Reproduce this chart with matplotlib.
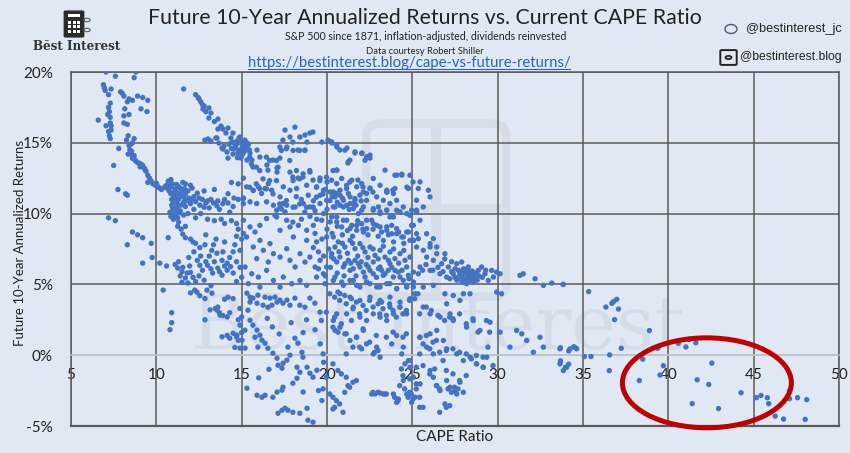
import matplotlib
matplotlib.use("Agg")
import matplotlib.pyplot as plt
from matplotlib.patches import Ellipse, FancyBboxPatch, Rectangle, Circle
from matplotlib.lines import Line2D

# ---------------- data (CAPE ratio, future 10y annualized return %) ----------------
left_band = [(7.05,20.0),(7.6,19.7),(8.8,20.0),(8.7,19.6),(6.9,19.1),(6.95,18.9),(7.35,18.8),(7.2,18.4),(7.9,18.6),(8.1,18.3),(8.4,18.1),(8.6,18.0),(9.2,18.2),(9.5,18.0),(7.2,17.5),(7.25,17.2),(8.15,17.4),(9.1,17.4),(9.45,17.2),(7.3,16.8),(7.3,16.4),(8.1,16.9),(8.4,17.0),(6.6,16.6),(7.05,16.2),(7.35,16.2),(8.1,16.4),(8.3,16.3),(7.2,15.8),(7.25,15.5),(7.3,15.3),(8.35,15.5),(8.7,15.3),(8.6,15.0),(7.8,14.6),(8.4,14.8),(8.5,14.2),(8.35,14.2),(8.6,13.9),(8.9,13.6),(9.1,13.5),(7.5,13.4),(9.2,13.4),(9.4,13.0),(9.5,12.7),(9.5,12.2),(9.8,12.1),(10.1,11.9),(10.3,11.7),(7.75,11.7),(8.2,11.4),(8.3,11.3),(7.2,9.7),(7.6,9.5),(8.6,8.7),(8.9,8.5),(9.2,8.3),(9.7,7.9),(8.3,7.8),(9.2,6.5),(9.75,6.9),(10.2,6.5),(10.6,6.3),(10.4,4.6),(10.9,3.0),(10.9,2.3),(10.8,1.8),(7.0,18.7),(8.0,18.5),(8.45,14.5),(8.75,13.8),(9.0,13.55),(9.3,13.2),(9.6,12.5),(9.95,12.0),(7.3,17.8),(7.15,17.0),(7.35,15.9),(8.25,15.2),(8.5,14.9),(8.55,14.4),(8.7,14.1),(8.8,13.7),(9.05,13.3),(9.35,13.05),(9.7,12.3),(10.0,12.15),(10.2,11.8),(8.3,17.9),(8.9,18.3)]

main_band = [(10.85,12.4),(10.7,12.3),(11.55,12.2),(11.7,12.1),(10.6,11.8),(10.75,11.6),(10.85,11.4),(11.0,11.1),(11.25,11.45),(11.45,11.25),(11.7,11.4),(11.9,11.1),(12.4,11.45),(12.5,11.1),(12.7,11.0),(12.9,10.75),(13.2,11.0),(13.6,10.9),(13.9,10.7),(14.2,10.75),(14.5,10.5),(14.8,11.0),(15.1,10.7),(15.1,11.1),(13.4,11.7),(14.2,11.4),(14.55,11.1),(11.0,10.75),(11.25,10.5),(11.0,10.3),(11.15,10.0),(10.85,9.8),(11.0,9.6),(11.25,9.7),(11.85,10.0),(12.2,10.3),(12.6,10.0),(13.0,9.6),(13.4,9.5),(13.8,9.6),(14.0,9.3),(14.4,9.5),(14.7,9.3),(11.25,9.1),(11.45,8.9),(11.7,9.1),(11.55,8.55),(11.7,8.3),(12.0,8.2),(12.3,7.9),(10.7,8.3),(14.8,8.9),(14.7,8.4),(15.0,8.2),(15.1,8.6),(10.5,11.9),(10.9,11.9),(11.1,11.7),(11.3,11.9),(11.5,11.6),(11.1,11.2),(11.3,11.0),(11.6,10.8),(10.9,10.6),(11.4,10.2),(11.7,10.5),(12.0,10.7),(12.2,11.2),(10.8,10.1),(11.3,9.4),(12.1,11.8),(12.8,11.6),(13.1,10.4),(13.7,10.3),(12.3,9.7),(14.3,10.1),(12.0,12.0),(14.8,12.1),(15.1,12.5),(14.4,12.2),(10.6,12.0),(10.75,11.95),(10.95,12.1),(11.2,12.05),(11.4,11.8),(11.65,11.75),(11.85,11.6),(10.95,11.45),(11.15,11.5),(11.35,11.35),(11.6,11.15),(11.8,10.9),(10.9,11.0),(11.05,10.9),(11.2,10.75),(11.45,10.6),(10.95,10.45),(11.15,10.35),(11.35,10.05),(11.6,9.9),(10.9,9.95),(11.05,9.85),(12.05,11.0),(12.3,10.85),(12.55,10.6),(12.8,10.45),(13.0,10.9),(13.35,10.75),(13.55,10.55),(14.0,11.0)]

mid_left = [(12.15,8.0),(12.55,7.6),(12.85,7.8),(13.25,7.4),(13.55,7.2),(13.9,7.3),(14.3,6.9),(14.6,7.8),(14.9,7.4),(13.85,6.7),(14.15,6.5),(11.1,6.4),(11.25,6.15),(11.5,5.9),(11.55,6.2),(11.8,5.8),(11.7,5.45),(12.0,5.85),(12.15,5.5),(11.5,5.15),(11.85,5.1),(12.4,6.7),(12.55,6.35),(12.7,6.0),(13.0,6.35),(13.3,5.8),(13.6,6.15),(13.85,5.65),(14.15,6.0),(14.5,5.8),(12.0,4.4),(12.25,4.6),(12.55,4.2),(12.85,4.0),(11.3,6.6),(11.4,5.6),(11.95,6.3),(12.3,5.2),(13.1,7.0),(14.0,8.0),(13.5,8.2),(12.9,8.5),(14.9,6.2),(15.0,5.5),(14.7,5.2),(13.2,4.9),(12.2,7.3),(12.6,7.0),(12.9,6.6),(13.2,6.1),(13.4,6.6),(13.7,5.9),(14.0,6.3),(14.35,6.25),(14.7,6.6),(14.5,7.3),(13.35,7.8),(12.5,5.6),(11.9,6.9),(12.8,5.3)]

low_left = [(13.6,3.4),(13.7,3.0),(13.9,2.8),(14.15,2.7),(14.3,3.0),(14.5,4.0),(14.2,4.1),(14.0,3.95),(13.15,3.2),(13.45,3.3),(13.85,1.3),(14.15,1.4),(14.3,1.2),(14.5,1.55),(14.7,1.3),(14.8,1.05),(15.0,1.6),(14.6,0.55),(14.9,0.5),(15.2,0.5),(14.8,2.5),(14.9,3.3),(15.0,2.7),(12.85,2.5),(14.72,1.41),(15.02,1.06),(14.9,2.12),(15.19,1.77),(15.37,3.18),(15.49,3.75),(12.38,4.45),(12.97,4.59),(13.26,4.38),(13.55,3.18),(13.73,2.83)]

low_mid = [(15.31,4.38),(15.49,4.1),(15.66,4.03),(15.95,4.24),(16.37,4.1),(16.66,4.03),(16.95,4.1),(17.24,3.89),(15.9,3.67),(16.25,3.53),(16.54,3.39),(16.77,3.53),(17.07,3.75),(17.42,3.67),(17.65,3.89),(17.83,3.53),(18.12,4.03),(18.41,3.53),(18.71,3.39),(19.0,4.03),(19.29,3.67),(19.59,3.04),(15.49,2.47),(15.66,2.12),(15.9,1.77),(16.07,1.41),(15.78,1.27),(16.19,1.06),(16.37,0.85),(15.95,0.57),(16.54,0.49),(16.83,0.14),(17.07,-0.21),(17.13,-0.71),(17.36,-0.92),(17.42,-0.57),(17.65,-0.35),(17.83,0.0),(17.71,0.57),(18.12,1.2),(18.3,0.85),(18.53,0.21),(18.59,-0.14),(18.24,-0.85),(18.41,-1.2),(18.83,-0.85),(19.0,-1.27),(19.18,-1.55),(19.41,-1.06),(18.24,-1.63),(18.0,-1.98),(15.31,-2.33),(15.9,-2.83),(16.19,-2.97),(16.37,-2.83),(16.83,-2.97),(17.07,-2.61),(17.36,-2.47),(17.42,-2.26),(17.13,-4.1),(17.36,-3.89),(17.54,-3.75),(17.71,-3.89),(18.0,-4.03),(18.41,-4.1),(18.83,-3.75),(18.88,-4.59),(19.18,-4.73),(16.8,2.0),(17.2,1.5),(16.5,2.6),(18.8,2.5),(19.3,1.8),(19.6,0.8),(18.6,1.6),(17.9,2.3),(19.8,-0.5),(19.5,-2.5),(19.7,-3.2),(16.0,-1.6),(16.6,-1.0),(18.6,-2.6)]

upper_diag = [(11.6,18.8),(12.3,18.4),(12.45,18.2),(12.5,18.1),(12.6,17.9),(12.7,17.7),(12.8,17.6),(12.73,17.39),(13.08,17.46),(13.2,17.1),(13.08,16.75),(13.61,16.68),(13.79,16.18),(13.61,15.97),(13.9,15.97),(14.08,15.69),(14.2,16.04),(14.49,15.69),(14.37,15.34),(13.03,15.27),(13.2,15.12),(13.49,15.34),(13.67,14.98),(13.96,14.77),(14.26,14.91),(14.55,14.56),(14.78,14.98),(14.84,15.34),(15.08,15.12),(15.13,14.77),(15.25,14.56),(14.78,14.28),(14.96,13.92),(14.49,14.2),(14.2,13.92),(13.9,14.56),(12.85,15.19),(13.55,15.34),(13.85,14.63),(14.14,14.35),(14.9,15.41),(15.19,15.19),(15.31,14.7),(15.49,14.28),(15.6,13.78),(15.66,13.29),(15.31,13.78),(15.02,14.13),(15.9,14.49),(16.07,13.99),(12.9,17.2),(13.4,16.5),(14.7,15.1),(15.0,14.6),(15.3,15.0),(14.6,14.9),(15.1,14.3),(14.45,15.05),(14.65,14.7),(14.85,14.45),(15.05,14.9),(15.2,14.45),(14.4,14.6),(14.95,15.1),(15.4,14.9),(15.45,14.5),(14.75,13.95)]

upper_right = [(17.54,15.9),(18.12,16.11),(17.83,15.41),(18.0,15.05),(18.41,15.41),(18.71,15.55),(19.0,15.69),(19.18,15.76),(18.83,15.05),(19.7,15.05),(20.06,15.19),(20.29,14.98),(20.58,14.7),(20.76,14.49),(21.17,14.63),(21.34,13.78),(21.23,13.57),(21.64,14.28),(22.05,14.28),(22.34,13.99),(22.52,13.92),(17.42,15.19),(17.24,14.7),(17.65,14.7),(18.3,14.49),(18.71,14.49),(20.27,15.07),(20.57,14.83),(21.05,14.48),(21.25,13.66),(21.64,14.36),(22.03,14.25),(22.32,14.0),(22.52,14.13),(22.23,13.77),(20.57,13.07),(16.48,13.43),(16.83,13.78),(17.24,13.92),(16.54,13.07),(17.07,13.22),(17.07,12.93),(17.83,12.93),(18.0,12.58),(18.3,12.51),(18.59,12.58),(19.0,12.93),(19.18,12.37),(19.59,12.51),(20.0,12.23),(20.58,13.07),(21.34,12.23),(21.81,12.37),(22.11,11.87),(22.52,11.8),(23.4,13.07),(24.1,12.72),(24.39,12.72),(24.68,11.87),(25.04,12.23),(22.69,11.52),(23.51,11.52),(23.86,11.66),(23.98,12.71),(24.38,12.78),(24.86,12.71),(25.45,12.24),(25.35,11.77),(25.94,11.65),(24.77,11.77),(23.98,11.77),(23.5,11.53),(15.47,13.99),(15.57,13.51),(15.86,13.28),(16.06,13.04),(16.45,13.99),(16.64,13.75),(17.04,13.75),(17.13,13.28),(17.33,14.46),(17.62,14.58),(18.01,14.46),(17.82,13.75),(18.4,14.46),(18.7,14.46),(18.21,13.04),(18.6,12.81),(18.99,13.04)]

band_10_12 = [(15.29,11.89),(15.68,11.65),(15.98,11.89),(16.17,11.42),(16.37,11.77),(16.56,12.12),(16.76,11.65),(17.44,11.89),(17.83,11.65),(18.22,11.77),(18.81,12.0),(19.39,11.89),(19.79,11.65),(20.18,11.53),(20.57,11.42),(20.76,11.65),(21.15,11.77),(21.35,11.18),(21.64,10.94),(21.93,11.3),(22.32,11.42),(15.1,11.06),(15.49,10.83),(15.88,10.71),(16.46,10.83),(16.86,10.59),(17.25,11.18),(17.64,10.59),(18.13,10.47),(18.61,10.71),(19.0,10.47),(19.59,10.71),(19.98,10.94),(20.37,10.47),(20.76,10.59),(21.15,10.59),(21.54,10.35),(22.03,10.24),(22.71,10.35),(23.11,10.12),(23.5,10.24),(23.89,9.76),(24.28,10.12),(24.86,9.88),(25.25,10.24),(17.05,10.24),(17.25,10.47),(17.44,10.71),(17.54,10.12),(16.95,9.88),(15.47,11.86),(15.67,11.63),(15.86,12.1),(16.06,11.75),(16.45,11.75),(16.25,12.45),(16.64,12.33),(16.84,11.39),(17.23,10.68),(17.33,10.33),(17.62,10.92),(18.01,10.45),(18.4,10.68),(18.8,10.45),(19.19,10.45),(19.38,11.16),(19.77,11.39),(20.17,10.92),(20.56,11.39),(17.04,12.33),(18.01,12.33),(18.4,12.45),(19.38,11.86),(19.58,12.33),(19.97,12.57),(20.36,13.04),(18.2,11.2),(18.5,11.0),(18.9,11.3),(19.2,10.9),(19.6,11.3),(19.9,11.7),(20.3,11.2),(20.6,10.8),(20.9,11.1),(21.3,10.3),(21.7,10.6),(22.0,10.9),(18.7,10.1),(19.3,10.2),(20.0,10.3)]

core_15_20 = [(15.1,9.53),(15.49,9.06),(15.78,8.7),(15.29,8.35),(16.07,8.11),(15.68,7.64),(16.27,7.41),(16.66,7.88),(16.86,7.17),(17.25,6.93),(17.64,7.52),(17.83,6.7),(18.13,6.23),(18.42,7.17),(18.71,6.58),(19.0,6.93),(19.3,6.23),(19.59,6.7),(19.79,5.75),(19.98,6.23),(20.27,7.17),(20.47,7.64),(20.76,6.93),(21.05,6.46),(21.35,5.99),(21.64,6.7),(21.93,6.23),(22.23,5.52),(22.52,5.99),(22.71,6.58),(23.11,6.23),(23.4,5.75),(23.69,6.46),(23.98,5.99),(24.28,5.52),(24.67,6.23),(25.06,5.87),(15.2,6.23),(15.59,5.75),(15.98,5.52),(16.46,5.99),(16.86,5.28),(17.44,5.52),(17.93,5.05),(18.42,5.28),(18.81,4.93),(19.39,5.52),(19.88,5.05),(20.37,5.28),(20.96,4.93),(21.54,5.28),(21.93,4.81),(22.52,5.05),(23.11,4.81),(23.69,5.05),(24.08,4.69),(24.67,4.93),(25.06,4.81),(15.39,5.05),(16.07,4.81),(17.25,4.81),(15.88,6.82),(16.56,6.58),(17.83,9.06),(18.32,9.17),(18.81,8.82),(19.2,9.17),(19.69,9.53),(20.18,9.41),(20.57,9.76),(20.96,9.53),(21.35,8.94),(21.74,9.17),(22.13,8.7),(22.32,9.53),(22.71,9.29),(23.11,9.06),(23.5,8.82),(23.79,9.17),(24.08,8.58),(24.47,8.35),(24.77,8.7),(25.06,8.11),(18.81,8.11),(19.39,8.0),(19.98,8.35),(18.03,8.35),(17.25,8.82),(17.05,9.76),(17.64,9.53),(16.46,9.65),(16.07,9.17)]

core_20_25 = [(20.27,9.76),(20.57,9.41),(20.86,9.06),(21.15,9.53),(21.45,9.17),(21.74,8.82),(22.03,9.29),(22.32,8.94),(22.62,9.53),(22.91,9.17),(23.2,8.7),(23.5,9.06),(23.79,8.58),(24.08,8.94),(24.38,8.35),(24.67,8.7),(24.86,8.11),(20.37,8.35),(20.66,8.0),(21.05,7.64),(21.35,8.11),(21.64,7.52),(21.93,7.88),(22.23,7.29),(22.52,7.64),(22.81,7.05),(23.11,7.41),(23.4,6.93),(23.69,7.29),(23.98,6.82),(24.28,7.17),(24.57,6.7),(24.86,6.93),(20.27,6.93),(20.57,6.58),(20.96,6.23),(21.25,6.7),(21.54,6.11),(21.84,6.46),(22.13,5.87),(22.42,6.23),(22.71,5.75),(23.01,6.11),(23.3,5.64),(23.59,5.99),(23.89,5.52),(24.18,5.87),(24.47,5.28),(24.77,5.64),(25.06,5.17),(20.47,5.52),(20.86,5.17),(21.35,5.28),(21.74,4.93),(22.32,5.17),(22.91,4.81),(23.5,5.05),(24.08,4.69),(24.67,4.81),(25.16,4.34),(22.52,4.1),(23.11,3.87),(23.69,4.1),(24.28,3.75),(24.86,3.99),(21.93,3.87),(21.35,4.1),(20.76,4.34),(22.71,10.24),(23.11,10.0),(22.13,10.47),(21.54,10.71),(20.96,10.94),(20.47,11.18),(21.84,10.0),(23.69,9.76),(24.08,10.24),(24.67,10.0),(25.06,9.17),(24.96,10.24),(20.27,12.36),(20.57,12.12),(20.86,12.48),(21.15,12.0),(21.45,12.36),(21.74,11.89),(22.03,12.12),(20.37,11.53),(20.76,11.3),(21.25,11.42),(21.64,11.06),(22.13,11.53),(22.52,11.77),(22.91,11.18),(23.3,10.94),(23.69,10.71),(24.08,10.94),(24.47,10.47),(22.71,12.48),(23.11,12.0),(23.5,11.65),(23.89,11.42),(22.32,10.94),(21.35,10.71),(20.96,10.47),(20.47,10.47),(23.01,10.47),(23.5,10.24),(19.2,7.6),(19.5,7.3),(19.8,7.0),(20.1,7.5),(20.4,6.8),(20.7,7.3),(20.9,7.9),(21.2,7.2),(21.5,7.9),(21.8,7.0),(22.1,7.6),(22.4,6.9),(22.7,7.5),(23.0,6.8),(23.3,7.7),(23.6,6.7),(23.9,7.5),(24.2,6.5),(24.5,7.4),(19.3,8.6),(19.7,8.2),(20.0,8.9),(20.3,8.6),(20.6,9.1),(20.9,8.5),(21.2,8.8),(21.5,8.4),(21.8,9.5),(22.1,8.9),(22.4,8.5),(22.7,8.9),(23.0,8.4),(23.3,8.1),(23.6,8.5),(23.9,8.0),(24.2,8.7),(24.5,7.9),(19.5,6.1),(19.9,5.6),(20.2,6.2),(20.6,5.8),(21.0,5.6),(21.4,6.5),(21.7,5.6),(22.0,6.6),(22.3,6.4),(22.9,5.5),(23.2,6.0),(23.8,6.2),(24.4,6.0),(24.8,5.4),(19.0,9.8),(19.4,9.6),(19.8,10.0),(18.5,9.6),(18.0,9.4)]

right_cluster = [(25.25,7.64),(25.64,7.41),(26.04,7.64),(25.84,6.93),(26.23,6.7),(26.43,7.17),(26.91,7.17),(26.72,6.46),(27.11,6.23),(27.6,6.46),(27.89,6.58),(28.09,5.99),(28.28,6.23),(28.48,5.75),(28.67,5.52),(28.87,5.99),(29.06,6.23),(29.26,5.75),(29.45,5.28),(29.65,5.99),(29.75,5.52),(29.94,5.87),(30.14,5.75),(27.99,5.4),(28.38,5.28),(28.18,5.05),(28.57,5.17),(27.79,5.75),(27.4,5.75),(27.01,5.52),(26.62,5.75),(26.04,5.99),(25.45,6.23),(25.35,5.75),(25.64,4.81),(26.23,4.93),(26.91,4.34),(27.4,4.22),(27.99,4.34),(28.38,4.34),(29.94,4.46),(30.23,4.34),(31.31,5.64),(31.5,5.75),(32.19,5.4),(32.68,4.93),(33.17,5.09),(33.85,5.0),(35.33,4.49),(27.7,5.5),(27.9,5.6),(28.0,5.8),(28.2,5.5),(28.4,5.6),(27.6,5.3),(28.1,5.2),(28.3,5.9),(27.8,5.9),(27.5,5.5),(25.25,8.58),(26.04,7.88),(25.06,8.11),(25.35,8.23),(24.96,9.17),(25.84,8.58),(26.23,8.23),(25.25,10.94),(25.64,10.47),(26.04,11.18),(25.25,10.12),(25.45,9.53),(26.43,7.64),(27.3,5.9),(27.5,6.1),(27.7,6.0),(28.0,6.1),(28.2,5.8),(28.5,5.95),(28.7,5.8),(28.9,5.6),(29.1,5.5),(29.3,6.0),(28.6,5.4),(28.8,5.3),(27.9,5.2),(27.2,5.4),(26.8,5.9),(26.5,6.2),(26.2,6.0),(25.8,6.4),(25.6,6.0),(26.9,6.8),(27.3,6.6)]

low_right = [(20.16,4.34),(20.45,4.1),(20.64,4.46),(20.74,3.87),(21.04,4.22),(21.13,3.63),(21.43,3.99),(21.52,3.28),(21.72,3.75),(21.91,2.92),(22.11,3.51),(22.3,3.16),(22.5,3.87),(22.7,3.4),(22.99,3.63),(23.09,2.92),(23.28,3.28),(23.48,2.81),(23.67,3.63),(23.87,3.16),(24.06,2.69),(24.26,3.4),(24.45,2.92),(24.65,3.16),(24.84,3.87),(25.14,3.99),(25.33,4.34),(20.45,2.69),(20.35,1.98),(20.64,1.63),(20.84,2.22),(21.13,1.51),(21.43,2.45),(21.72,1.27),(21.91,0.57),(22.11,1.86),(22.5,0.92),(22.79,0.21),(22.89,1.39),(22.99,0.33),(23.48,1.27),(23.87,1.63),(24.45,1.27),(24.65,1.51),(21.52,0.57),(21.13,0.09),(19.77,0.09),(19.67,2.45),(19.96,3.04),(25.43,2.92),(25.82,3.4),(26.11,3.16),(26.5,2.81),(26.89,2.45),(27.19,2.69),(27.38,2.57),(27.77,2.92),(28.16,2.22),(28.55,2.57),(28.85,1.63),(29.34,2.45),(29.53,1.63),(25.43,1.27),(25.63,0.8),(25.82,1.39),(26.21,0.92),(26.41,1.04),(26.02,0.45),(26.6,0.21),(26.99,0.33),(27.38,0.45),(27.77,0.21),(28.16,0.09),(28.46,-0.26),(28.75,-0.02),(29.14,-0.14),(29.43,0.57),(25.43,0.09),(24.84,-0.38),(25.23,-0.85),(25.63,-0.73),(26.02,-1.32),(26.31,-0.97),(26.8,-0.38),(26.99,-1.08),(27.38,-1.32),(27.77,-1.79),(28.16,-1.44),(28.75,-0.61),(29.14,-0.85),(29.73,-0.73),(20.35,-0.61),(20.64,-1.08),(20.84,-1.32),(21.13,-1.56),(21.33,-2.26),(21.52,-1.91),(21.72,-1.79),(21.04,-2.62),(21.23,-2.15),(20.16,-2.74),(20.35,-2.97),(20.55,-3.21),(20.45,-3.68),(20.74,-3.44),(20.94,-4.03),(20.35,-3.8),(22.7,-2.62),(22.99,-2.62),(23.28,-2.74),(23.48,-2.74),(23.96,-2.97),(24.16,-3.21),(24.26,-2.15),(24.55,-2.38),(24.84,-2.62),(24.94,-2.74),(24.75,-2.97),(25.04,-3.09),(25.23,-2.38),(25.43,-2.97),(24.84,-1.67),(25.23,-2.03),(24.45,-1.44),(24.36,-0.97),(25.43,-3.68),(25.63,-3.68),(26.41,-2.15),(26.6,-2.38),(27.09,-2.38),(27.29,-2.62),(27.48,-2.26),(27.68,-2.38),(26.99,-3.68),(27.19,-3.56),(26.6,-4.03),(19.96,-1.56),(19.77,-2.38),(26.91,-3.44),(25.45,-2.03),(25.06,-1.56),(24.47,-1.79),(24.67,-2.74),(25.16,-2.97),(24.96,-3.33),(24.18,-3.09),(24.08,-3.33),(23.89,-2.74),(23.4,-2.74),(23.11,-2.67),(22.81,-2.74),(22.62,-2.74),(24.77,-0.38),(24.86,-0.85),(24.57,-0.61),(24.38,0.09),(23.79,0.8),(24.08,1.39),(24.47,0.57),(23.11,-0.14),(22.71,0.09),(22.91,0.57),(22.13,1.75),(22.32,0.8),(22.03,0.45),(21.74,1.27),(21.35,1.04),(21.05,1.51),(20.76,1.98),(20.47,1.75),(20.37,2.45),(20.57,2.92),(21.15,2.92),(21.54,3.4),(21.93,2.69),(22.32,2.45),(22.71,2.92),(23.11,2.69),(23.5,2.45),(23.89,2.92),(24.28,3.4),(24.67,2.92),(23.69,3.4),(23.2,3.75),(25.64,3.4),(26.04,2.92),(26.62,2.69),(27.01,3.63),(27.21,2.92),(27.4,2.45),(27.79,3.87),(28.18,1.98),(28.57,2.45),(28.96,1.75),(29.55,2.33),(26.04,1.51),(26.43,1.75),(26.82,1.04),(25.45,1.27),(25.84,0.57),(26.23,0.09),(27.01,0.45),(27.6,0.09),(27.99,-0.38),(28.38,-0.14),(28.77,-0.61),(29.16,-0.85),(29.36,-0.14),(26.04,-1.08),(26.23,-1.56),(26.43,-2.15),(26.62,-2.5),(27.01,-1.79),(27.21,-2.26),(27.5,-2.5),(27.79,-1.91),(27.6,-2.74),(27.99,-2.62)]

tail = [(30.14,1.63),(30.72,0.57),(31.11,1.75),(31.41,1.51),(31.7,1.04),(32.48,1.27),(32.68,0.57),(32.09,0.21),(33.65,0.45),(34.24,0.45),(34.63,0.45),(33.65,-0.61),(34.04,-0.85),(33.85,-1.08),(33.83,5.0),(36.34,3.4),(36.69,3.67),(36.79,3.79),(36.98,3.95),(37.08,3.26),(36.85,2.51),(38.89,1.74),(37.24,0.49),(36.56,0.02),(35.47,-0.09),(35.08,-0.09),(36.54,-1.09),(34.55,0.53),(34.46,0.6),(34.16,0.3),(33.68,0.53),(33.97,-0.86),(34.16,-0.63),(33.68,-0.4),(38.5,-0.28),(38.3,-1.79),(39.38,0.49),(39.71,-0.74),(39.51,-1.4),(40.58,0.84),(41.03,0.58),(41.23,1.12),(41.61,0.88),(42.55,-0.56),(41.69,-1.74),(42.37,-2.07),(41.4,-3.42),(42.94,-3.77),(44.26,-2.65),(45.16,-3.0),(45.43,-2.84),(45.8,-3.0),(45.88,-3.42),(47.1,-2.53),(47.1,-3.07),(47.57,-3.0),(48.11,-3.14),(46.26,-4.3),(46.75,-4.51),(48.02,-4.53)]

groups = [left_band, main_band, mid_left, low_left, low_mid, upper_diag, upper_right,
          band_10_12, core_15_20, core_20_25, right_cluster, low_right, tail]
cape = [p[0] for g in groups for p in g]
returns = [p[1] for g in groups for p in g]

x_ticks = [5, 10, 15, 20, 25, 30, 35, 40, 45, 50]
y_ticks = [-5, 0, 5, 10, 15, 20]

# highlight ellipse (center CAPE, center return, width, height)
ell_center = (42.26, -1.95)
ell_size = (9.9, 6.35)

# ---------------- style ----------------
BG = '#dfe8f3'
GRID = '#5a5a5a'
ZERO = '#b9c1cc'
DOT = '#4472c4'
FONT = 'Lato'

fig = plt.figure(figsize=(8.5, 4.53), dpi=100, facecolor=BG)
ax = fig.add_axes([71/850, 1-426/453, (839-71)/850, (426-72)/453])
ax.set_facecolor(BG)
ax.set_xlim(5, 50)
ax.set_ylim(-5, 20)
ax.set_xticks(x_ticks)
ax.set_yticks(y_ticks)
ax.set_xticklabels([str(v) for v in x_ticks])
ax.set_yticklabels([f'{v}%' for v in y_ticks])
ax.grid(True, color=GRID, lw=1.1, zorder=1)
ax.yaxis.get_gridlines()[1].set_color(ZERO)
ax.set_axisbelow(True)
for s in ['left', 'right', 'top']:
    ax.spines[s].set_color(GRID)
    ax.spines[s].set_linewidth(1.1)
ax.spines['bottom'].set_position(('data', 0))
ax.spines['bottom'].set_color(ZERO)
ax.spines['bottom'].set_linewidth(1.1)
ax.axhline(-5, color=GRID, lw=1.6, clip_on=False, zorder=1)
ax.tick_params(axis='both', length=0, labelsize=11, colors='#222222')
ax.tick_params(axis='x', pad=9)
ax.tick_params(axis='y', pad=13)
for lab in ax.get_xticklabels() + ax.get_yticklabels():
    lab.set_fontfamily(FONT)

# watermark (faint logo text and calculator outline behind the points)
ax.text(0.478, 0.2175, 'Bēst Interest', transform=ax.transAxes, ha='center', va='baseline',
        fontsize=54, family='DejaVu Serif', color='#d3dce7', zorder=0)
wm = FancyBboxPatch((22.6, 4.5), 7.6, 11.5, boxstyle='round,pad=0.3,rounding_size=0.8',
                    fill=False, ec='#d5dde8', lw=6, zorder=0, mutation_aspect=1.2)
ax.add_patch(wm)
ax.plot([26.4, 26.4], [4.8, 15.7], color='#d5dde8', lw=7, zorder=0)
ax.plot([22.9, 29.9], [10.3, 10.3], color='#d5dde8', lw=7, zorder=0)

ax.scatter(cape, returns, s=15, c=DOT, edgecolors='none', zorder=3)

ell = Ellipse(ell_center, ell_size[0], ell_size[1], fill=False, ec='#c00000', lw=3.6,
              zorder=4, clip_on=False)
ax.add_patch(ell)

ax.set_xlabel('CAPE Ratio', fontsize=11, family=FONT, color='#222222')
ax.xaxis.set_label_coords(0.5, -0.012)
fig.text(20/850, 1-243/453, 'Future 10-Year Annualized Returns', rotation=90,
         ha='center', va='center', fontsize=9.5, family=FONT, color='#222222')

# ---------------- header ----------------
fig.text(425/850, 1-18/453, 'Future 10-Year Annualized Returns vs. Current CAPE Ratio',
         ha='center', va='center', fontsize=15.3, family=FONT, color='#222222')
fig.text(426/850, 1-37/453, 'S&P 500 since 1871, inflation-adjusted, dividends reinvested',
         ha='center', va='center', fontsize=7.6, family=FONT, color='#222222')
fig.text(425/850, 1-52/453, 'Data courtesy Robert Shiller',
         ha='center', va='center', fontsize=6.8, family=FONT, color='#222222')
url = fig.text(409/850, 1-63/453, 'https://bestinterest.blog/cape-vs-future-returns/',
               ha='center', va='center', fontsize=10.7, family=FONT, color='#2a64c4')

# left logo
fig.patches.append(FancyBboxPatch((66/850, 1-36/453), 16/850, 24/453,
                   boxstyle='round,pad=0.002', transform=fig.transFigure,
                   fc='#2b2b2b', ec='#2b2b2b', figure=fig))
for r in range(3):
    for c in range(3):
        fig.patches.append(Rectangle(((68 + c*4.6)/850, 1-(33 - r*4.6)/453), 3.2/850, 3.2/453,
                           transform=fig.transFigure, fc='white', ec='none', figure=fig))
fig.patches.append(Rectangle((68/850, 1-17/453), 12/850, 3/453, transform=fig.transFigure,
                   fc='white', ec='none', figure=fig))
fig.patches.append(Circle((87/850, 1-20/453), 3.2/850, transform=fig.transFigure,
                   fill=False, ec='#555555', lw=0.8, figure=fig))
fig.patches.append(Circle((87/850, 1-30/453), 3.2/850, transform=fig.transFigure,
                   fill=False, ec='#555555', lw=0.8, figure=fig))
fig.text(77/850, 1-46/453, 'Bēst Interest', ha='center', va='center', fontsize=8.6,
         family='DejaVu Serif', weight='bold', color='#333333')

# right handles
fig.text(842/850, 1-29/453, '@bestinterest_jc', ha='right', va='center', fontsize=9.2,
         family='Liberation Sans', color='#222222')
fig.text(842/850, 1-57/453, '@bestinterest.blog', ha='right', va='center', fontsize=8.7,
         family='Liberation Sans', color='#222222')
fig.patches.append(Ellipse((731/850, 1-29/453), 12/850, 9/453, transform=fig.transFigure,
                   fill=False, ec='#4a5a70', lw=1.0, figure=fig))
fig.patches.append(FancyBboxPatch((722/850, 1-64/453), 13/850, 13/453,
                   boxstyle='round,pad=0.002', transform=fig.transFigure,
                   fill=False, ec='#222222', lw=1.4, figure=fig))
fig.patches.append(Circle((728.5/850, 1-57.5/453), 3/850, transform=fig.transFigure,
                   fill=False, ec='#222222', lw=1.3, figure=fig))

# underline the URL
fig.canvas.draw()
bb = url.get_window_extent().transformed(fig.transFigure.inverted())
fig.lines.append(Line2D([bb.x0, bb.x1], [bb.y0 + 0.003, bb.y0 + 0.003],
                        transform=fig.transFigure, color='#2a64c4', lw=0.8, figure=fig))

fig.savefig('out.png', dpi=100, facecolor=BG)
